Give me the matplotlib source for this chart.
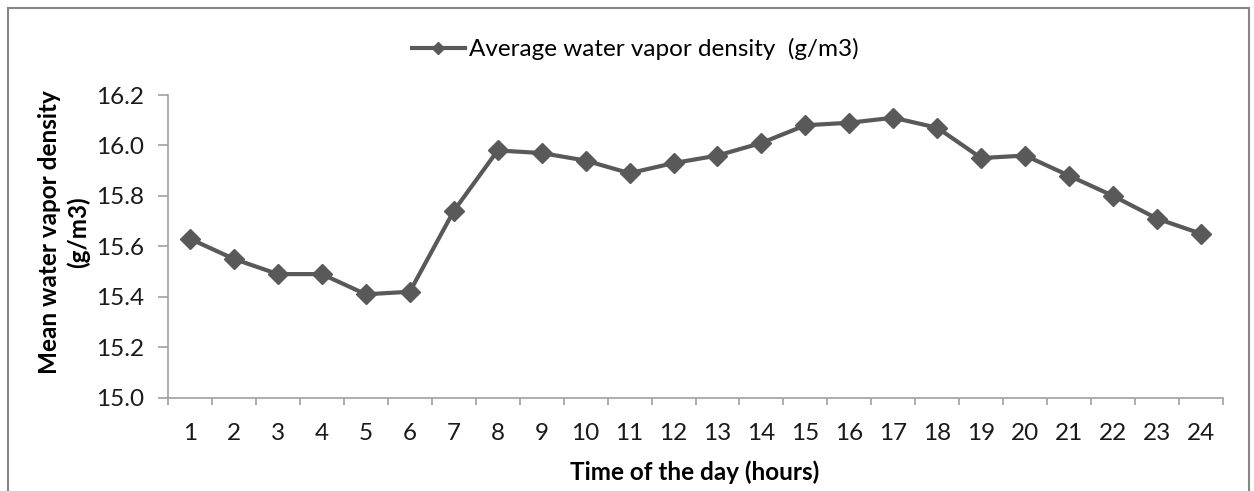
import matplotlib
matplotlib.use("Agg")
import matplotlib.pyplot as plt
from matplotlib.patches import Rectangle

hours = list(range(1, 25))
density = [15.63, 15.55, 15.49, 15.49, 15.41, 15.42, 15.74, 15.98, 15.97, 15.94,
           15.89, 15.93, 15.96, 16.01, 16.08, 16.09, 16.11, 16.07, 15.95, 15.96,
           15.88, 15.80, 15.71, 15.65]
yticks = [15.0, 15.2, 15.4, 15.6, 15.8, 16.0, 16.2]
series_label = "Average water vapor density  (g/m3)"
xlabel = "Time of the day (hours)"
ylabel = "Mean water vapor density\n(g/m3)"

plt.rcParams['font.family'] = ['Lato', 'DejaVu Sans']
W, H = 1254, 491
fig = plt.figure(figsize=(W / 100, H / 100), dpi=100)
fig.patch.set_facecolor('white')

# outer chart border
fig.add_artist(Rectangle((8 / W, -0.05), (1249 - 8) / W, 1.05 - 8 / H,
                         transform=fig.transFigure, fill=False,
                         edgecolor='#868686', linewidth=1.5))

ax = fig.add_axes([168 / W, 1 - 397.7 / H, (1223 - 168) / W, (397.7 - 95) / H])
line_c = '#595959'
x = [h - 0.5 for h in hours]
ax.plot(x, density, color=line_c, linewidth=3, marker='D', markersize=10.5,
        label=series_label, solid_joinstyle='round')

ax.set_xlim(0, 24)
ax.set_ylim(15.0, 16.2)
ax.set_yticks(yticks)
ax.set_yticklabels([f"{v:.1f}" for v in yticks])
ax.set_xticks(range(0, 25))
ax.set_xticklabels([])
ax.set_xticks(x, minor=True)
ax.set_xticklabels([str(h) for h in hours], minor=True)
ax.tick_params(axis='x', which='minor', length=0, pad=18, labelsize=17.5, labelcolor='#1a1a1a')
ax.tick_params(axis='x', which='major', length=5, color='#a0a0a0', width=1.2)
ax.tick_params(axis='y', length=7, color='#a0a0a0', width=1.2, labelsize=17.5,
               labelcolor='#1a1a1a', pad=10)

for s in ['top', 'right']:
    ax.spines[s].set_visible(False)
for s in ['left', 'bottom']:
    ax.spines[s].set_color('#a0a0a0')
    ax.spines[s].set_linewidth(1.2)

fig.text(695 / W, 1 - 472 / H, xlabel, fontsize=17.5, fontweight='bold',
         ha='center', va='center')
fig.text(64 / W, 1 - 232 / H, ylabel, fontsize=17.5, fontweight='bold',
         ha='center', va='center', rotation=90, multialignment='center',
         linespacing=1.3)

leg = ax.legend(loc='center', bbox_to_anchor=(635 / W, 1 - 49 / H),
                bbox_transform=fig.transFigure, frameon=False, fontsize=17.5,
                handlelength=2.2, handletextpad=0.15, markerscale=0.6)

fig.savefig('out.png', dpi=100, facecolor='white')
